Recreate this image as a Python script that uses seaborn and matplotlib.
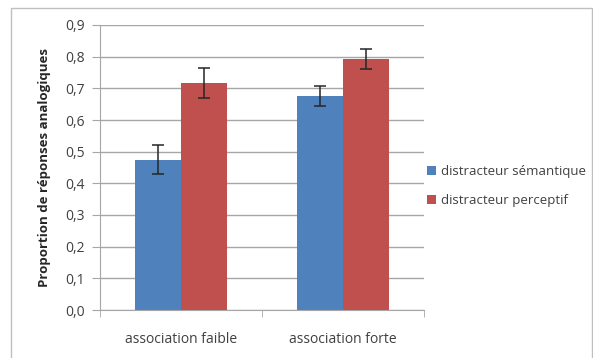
import pandas as pd
import seaborn as sns
import matplotlib.pyplot as plt
from matplotlib.patches import Rectangle

categories = ["association faible", "association forte"]
series = ["distracteur sémantique", "distracteur perceptif"]
semantique = [0.475, 0.675]
perceptif = [0.717, 0.792]
err_semantique = [0.045, 0.031]
err_perceptif = [0.046, 0.031]
yticks = [0.0, 0.1, 0.2, 0.3, 0.4, 0.5, 0.6, 0.7, 0.8, 0.9]
ytick_labels = ["0,0", "0,1", "0,2", "0,3", "0,4", "0,5", "0,6", "0,7", "0,8", "0,9"]

df = pd.DataFrame({
    "cond": categories * 2,
    "distracteur": [series[0]] * 2 + [series[1]] * 2,
    "prop": semantique + perceptif,
    "err": err_semantique + err_perceptif,
})

sns.set_style("white")
plt.rcParams["font.family"] = ["Open Sans", "DejaVu Sans"]

fig = plt.figure(figsize=(5.93, 3.58), dpi=100)
ax = fig.add_axes([100 / 593, 48 / 358, 324 / 593, 285 / 358])

# chart border like the spreadsheet frame
fig.patches.append(Rectangle((11 / 593, -0.1), 581 / 593, 1.1 - 8 / 358,
                             transform=fig.transFigure, fill=False,
                             edgecolor="#bfbfbf", linewidth=1))

sns.barplot(data=df, x="cond", y="prop", hue="distracteur", order=categories,
            hue_order=series, palette=["#4F81BD", "#C0504D"], width=0.57,
            errorbar=None, saturation=1, ax=ax, linewidth=0)

# error bars at bar centres
for cont, errs, vals in zip(ax.containers, [err_semantique, err_perceptif], [semantique, perceptif]):
    xs = [p.get_x() + p.get_width() / 2 for p in cont.patches]
    ax.errorbar(xs, vals, yerr=errs, fmt="none", ecolor="#262626",
                elinewidth=1.1, capsize=4, capthick=1.1, zorder=5)

ax.set_ylim(0, 0.9)
ax.set_xlim(-0.5, 1.5)
ax.set_yticks(yticks)
ax.set_yticklabels(ytick_labels)
ax.yaxis.grid(True, color="#a6a6a6", linewidth=1)
ax.set_axisbelow(True)
for s in ["top", "right"]:
    ax.spines[s].set_visible(False)
ax.spines["left"].set_color("#a6a6a6")
ax.spines["bottom"].set_color("#a6a6a6")
ax.tick_params(axis="y", left=True, length=6, color="#a6a6a6", labelsize=10,
               labelcolor="#404040", pad=5)
ax.set_xticks([0, 1])
ax.set_xticklabels(categories)
ax.set_xticks([-0.5, 0.5, 1.5], minor=True)
ax.tick_params(axis="x", which="major", length=0, labelsize=10, pad=16,
               labelcolor="#404040")
ax.tick_params(axis="x", which="minor", bottom=True, length=5, color="#a6a6a6")
ax.set_xlabel("")
ax.set_ylabel("Proportion de réponses analogiques", fontsize=9.5,
              fontweight="bold", color="#262626", labelpad=10)

ax.legend(loc="center left", bbox_to_anchor=(1.0, 0.435), frameon=False,
          fontsize=9.5, handlelength=0.7, handleheight=0.7, handletextpad=0.4,
          labelspacing=1.25, borderaxespad=0, borderpad=0.2,
          labelcolor="#404040")

fig.savefig("out.png", dpi=100)
